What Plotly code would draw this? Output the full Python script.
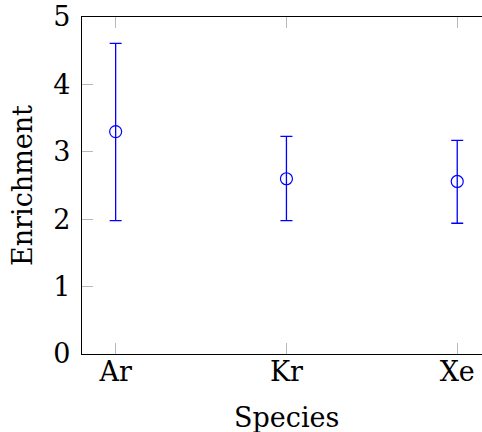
import plotly.graph_objects as go

species = ["Ar", "Kr", "Xe"]
enrichment = [3.30, 2.60, 2.56]
err_plus = [1.31, 0.63, 0.61]
err_minus = [1.32, 0.62, 0.62]
y_ticks = [0, 1, 2, 3, 4, 5]

FONT = "DejaVu Serif"
BLUE = "#0000ff"
FS = 27

fig = go.Figure()
fig.add_trace(go.Scatter(
    x=species, y=enrichment, mode="markers",
    marker=dict(symbol="circle-open", size=12, color=BLUE, line=dict(width=1.2, color=BLUE)),
    error_y=dict(type="data", symmetric=False, array=err_plus, arrayminus=err_minus,
                 color=BLUE, thickness=1.3, width=6),
    showlegend=False,
))

fig.update_layout(
    width=482, height=432,
    margin=dict(l=82, r=0, t=17, b=78, autoexpand=False),
    plot_bgcolor="white", paper_bgcolor="white",
    font=dict(family=FONT, size=FS, color="black"),
    xaxis=dict(
        type="category", categoryorder="array", categoryarray=species,
        range=[-0.197, 2.145], automargin=False,
        showline=True, linecolor="black", linewidth=1.3, mirror="allticks",
        ticks="inside", ticklen=11, tickcolor="#b8b8b8", tickwidth=1,
        showgrid=False, zeroline=False, ticklabelstandoff=-7,
        ticklabeloverflow="allow",
        tickfont=dict(family=FONT, size=FS),
    ),
    yaxis=dict(
        range=[0, 5], tickvals=y_ticks, automargin=False,
        showline=True, linecolor="black", linewidth=1.3, mirror=False,
        ticks="inside", ticklen=11, tickcolor="#b8b8b8", tickwidth=1,
        showgrid=False, zeroline=False, ticklabelstandoff=5,
        ticklabeloverflow="allow",
        tickfont=dict(family=FONT, size=FS),
    ),
    annotations=[
        dict(text="Species", xref="paper", yref="paper", x=(286 - 82) / 400, y=0,
             xanchor="center", yanchor="top", yshift=-46, showarrow=False,
             font=dict(family=FONT, size=FS)),
        dict(text="Enrichment", xref="paper", yref="paper", x=0, y=0.5,
             xanchor="right", yanchor="middle", xshift=-42, textangle=-90, showarrow=False,
             font=dict(family=FONT, size=FS)),
    ],
)

fig.write_html("out.html", config={"displayModeBar": False},
               post_script="document.body.style.margin='0';")
